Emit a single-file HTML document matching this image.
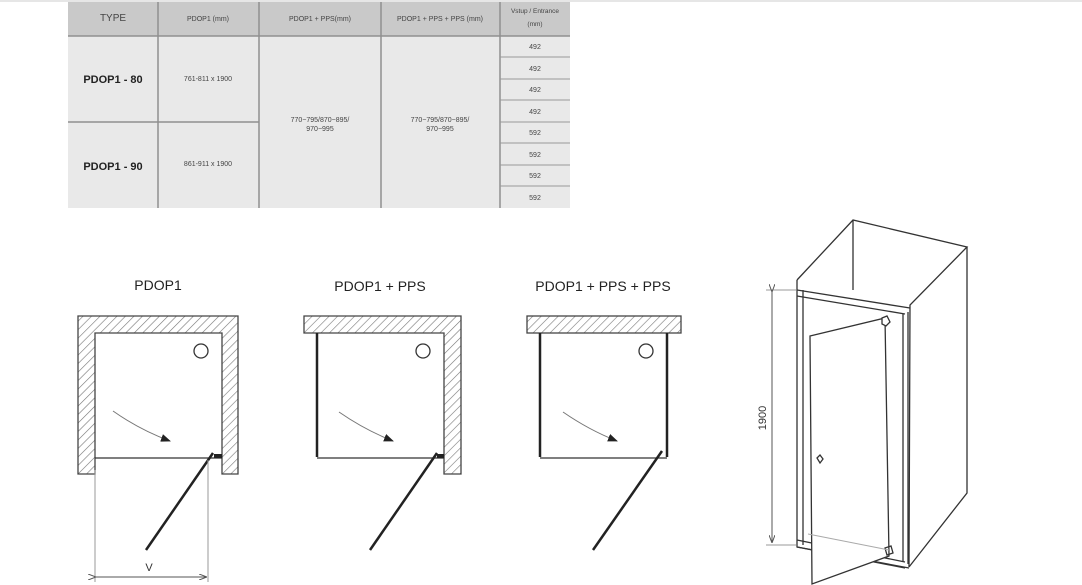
<!DOCTYPE html>
<html><head><meta charset="utf-8"><style>
html,body{margin:0;padding:0;background:#fff;width:1082px;height:585px;overflow:hidden}
svg{display:block}
text{font-family:"Liberation Sans",sans-serif}
</style></head><body>
<svg width="1082" height="585" viewBox="0 0 1082 585" xmlns="http://www.w3.org/2000/svg">
<defs>
<pattern id="h" patternUnits="userSpaceOnUse" width="6" height="6" patternTransform="rotate(45)">
<rect width="6" height="6" fill="#fff"/><line x1="0" y1="0" x2="0" y2="6" stroke="#777" stroke-width="1.2"/>
</pattern>
<marker id="ar" markerWidth="10" markerHeight="8" refX="9" refY="4" orient="auto" markerUnits="userSpaceOnUse"><path d="M0,0 L10,4 L0,8 Z" fill="#222"/></marker>
<marker id="da" markerWidth="8" markerHeight="6" refX="8" refY="3" orient="auto" markerUnits="userSpaceOnUse"><path d="M0,0 L8,3 L0,6" fill="none" stroke="#555"/></marker>
</defs>
<line x1="0" y1="1" x2="1082" y2="1" stroke="#ccc"/>
<!-- table -->
<rect x="68" y="2" width="502" height="34" fill="#c9c9c9"/>
<rect x="68" y="36" width="502" height="172" fill="#e9e9e9"/>
<g stroke="#8f8f8f" stroke-width="1.5">
<line x1="158" y1="2" x2="158" y2="208"/><line x1="259" y1="2" x2="259" y2="208"/>
<line x1="381" y1="2" x2="381" y2="208"/><line x1="500" y1="2" x2="500" y2="208"/>
<line x1="68" y1="36" x2="570" y2="36"/><line x1="68" y1="122" x2="259" y2="122"/>
</g>
<g stroke="#999" stroke-width="1">
<line x1="500" y1="57" x2="570" y2="57"/><line x1="500" y1="79" x2="570" y2="79"/><line x1="500" y1="100" x2="570" y2="100"/><line x1="500" y1="122" x2="570" y2="122"/><line x1="500" y1="143" x2="570" y2="143"/><line x1="500" y1="165" x2="570" y2="165"/><line x1="500" y1="186" x2="570" y2="186"/>
</g>
<g fill="#444" text-anchor="middle">
<text x="113" y="21" font-size="10">TYPE</text>
<text x="208" y="21" font-size="7">PDOP1 (mm)</text>
<text x="320" y="21" font-size="7">PDOP1 + PPS(mm)</text>
<text x="440" y="21" font-size="7">PDOP1 + PPS + PPS (mm)</text>
<text x="535" y="13" font-size="6.5">Vstup / Entrance</text>
<text x="535" y="26" font-size="6.5">(mm)</text>
<text x="113" y="83" font-size="11" font-weight="bold" fill="#222">PDOP1 - 80</text>
<text x="113" y="170" font-size="11" font-weight="bold" fill="#222">PDOP1 - 90</text>
<text x="208" y="81" font-size="7">761-811 x 1900</text>
<text x="208" y="166" font-size="7">861-911 x 1900</text>
<text x="320" y="122" font-size="7">770−795/870−895/</text>
<text x="320" y="131" font-size="7">970−995</text>
<text x="440" y="122" font-size="7">770−795/870−895/</text>
<text x="440" y="131" font-size="7">970−995</text>
<g font-size="7"><text x="535" y="49">492</text><text x="535" y="71">492</text><text x="535" y="92">492</text><text x="535" y="114">492</text><text x="535" y="135">592</text><text x="535" y="157">592</text><text x="535" y="178">592</text><text x="535" y="200">592</text></g>
</g>
<!-- titles -->
<g fill="#222" font-size="14" text-anchor="middle">
<text x="158" y="290">PDOP1</text>
<text x="380" y="291">PDOP1 + PPS</text>
<text x="603" y="291">PDOP1 + PPS + PPS</text>
</g>
<!-- diagram 1 -->
<path d="M78,316 H238 V474 H222 V333 H95 V474 H78 Z" fill="url(#h)" stroke="#444" stroke-width="1.3"/>
<line x1="95" y1="458" x2="222" y2="458" stroke="#333" stroke-width="1.3"/>
<circle cx="201" cy="351" r="7" fill="none" stroke="#333" stroke-width="1.3"/>
<path d="M113,411 Q140,430 170,441" fill="none" stroke="#777" stroke-width="1" marker-end="url(#ar)"/>
<line x1="213" y1="453" x2="146" y2="550" stroke="#222" stroke-width="2.5"/>
<rect x="214" y="454" width="8" height="4" fill="#222"/>
<g stroke="#999" stroke-width="1"><line x1="95" y1="470" x2="95" y2="582"/><line x1="208" y1="460" x2="208" y2="582"/></g>
<line x1="96" y1="577" x2="207" y2="577" stroke="#555" marker-end="url(#da)" marker-start="url(#da)"/>
<text x="149" y="571" font-size="11" fill="#333" text-anchor="middle">V</text>
<!-- diagram 2 -->
<path d="M304,316 H461 V474 H444 V333 H304 Z" fill="url(#h)" stroke="#444" stroke-width="1.3"/>
<line x1="317" y1="333" x2="317" y2="457" stroke="#222" stroke-width="2.5"/>
<line x1="317" y1="458" x2="444" y2="458" stroke="#333" stroke-width="1.3"/>
<circle cx="423" cy="351" r="7" fill="none" stroke="#333" stroke-width="1.3"/>
<path d="M339,412 Q365,430 393,441" fill="none" stroke="#777" stroke-width="1" marker-end="url(#ar)"/>
<line x1="437" y1="453" x2="370" y2="550" stroke="#222" stroke-width="2.5"/>
<rect x="437" y="454" width="7" height="4" fill="#222"/>
<!-- diagram 3 -->
<rect x="527" y="316" width="154" height="17" fill="url(#h)" stroke="#444" stroke-width="1.3"/>
<line x1="540" y1="333" x2="540" y2="457" stroke="#222" stroke-width="2.5"/>
<line x1="667" y1="333" x2="667" y2="457" stroke="#222" stroke-width="2.5"/>
<line x1="540" y1="458" x2="667" y2="458" stroke="#333" stroke-width="1.3"/>
<circle cx="646" cy="351" r="7" fill="none" stroke="#333" stroke-width="1.3"/>
<path d="M563,412 Q589,430 617,441" fill="none" stroke="#777" stroke-width="1" marker-end="url(#ar)"/>
<line x1="662" y1="451" x2="593" y2="550" stroke="#222" stroke-width="2.5"/>
<!-- 3D cabin -->
<g fill="none" stroke="#333" stroke-width="1.3">
<path d="M797,280 L853,220 L967,247 L910,305 L909,567"/>
<path d="M853,220 L853,290"/>
<path d="M967,247 L967,493 L909,567"/>
<path d="M797,280 L797,547 L909,568"/>
<path d="M803,290 L803,545"/>
<path d="M797,290 L910,308 M797,296 L905,314"/>
<path d="M903,314 L903,562 M908,312 L908,564"/>
<path d="M797,540 L905,562 M797,547 L905,568"/>
<path d="M810,336 L885,318 L889,556 L812,584 Z" fill="#fff"/>
<path d="M882,318 l5,-2 l3,6 l-4,4 l-4,-2 z" fill="#fff"/>
<path d="M817,458 l3,-3 l3,4 l-3,4 z"/>
<path d="M885,548 l6,-2 l2,7 l-6,2 z"/>
<line x1="808" y1="534" x2="889" y2="550" stroke="#aaa" stroke-width="1"/>
</g>
<g stroke="#999" stroke-width="1"><line x1="766" y1="290" x2="796" y2="290"/><line x1="766" y1="545" x2="796" y2="545"/></g>
<line x1="772" y1="292" x2="772" y2="543" stroke="#555" marker-end="url(#da)" marker-start="url(#da)"/>
<text transform="translate(766,418) rotate(-90)" font-size="11" fill="#333" text-anchor="middle">1900</text>
</svg>
</body></html>
